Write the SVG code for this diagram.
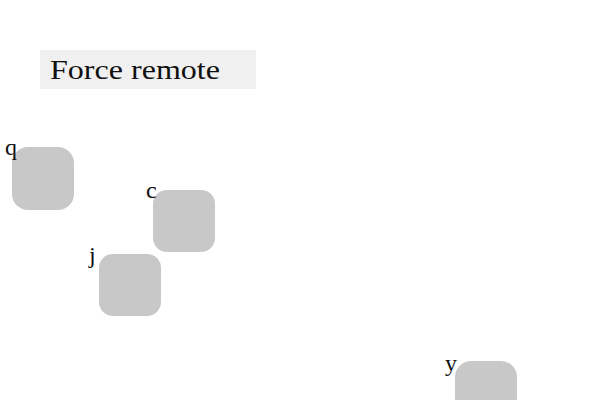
<svg xmlns="http://www.w3.org/2000/svg" width="600" height="400" viewBox="0 0 600 400">
<style>
.node rect{fill:#c8c8c8}
.lbl{font-family:"Liberation Serif","DejaVu Serif",serif;font-size:24px;fill:#111}
.title{font-family:"Liberation Serif","DejaVu Serif",serif;font-size:28px;fill:#111}
</style>
<rect width="600" height="400" fill="#ffffff"/>
<g id="title">
<rect x="40" y="50" width="216" height="39" fill="#f0f0f0"/>
<text class="title" x="50" y="79" textLength="170" lengthAdjust="spacingAndGlyphs">Force remote</text>
</g>
<g id="connectors"></g>
<g id="q" class="node"><rect x="12" y="147" width="62" height="63" rx="16"/><text class="lbl" x="5" y="155">q</text></g>
<g id="c" class="node"><rect x="153" y="190" width="62" height="62" rx="14"/><text class="lbl" x="146" y="198">c</text></g>
<g id="j" class="node"><rect x="99" y="254" width="62" height="62" rx="14"/><text class="lbl" x="89" y="263">j</text></g>
<g id="y" class="node"><rect x="455" y="361" width="62" height="62" rx="16"/><text class="lbl" x="445" y="371">y</text></g>
</svg>
